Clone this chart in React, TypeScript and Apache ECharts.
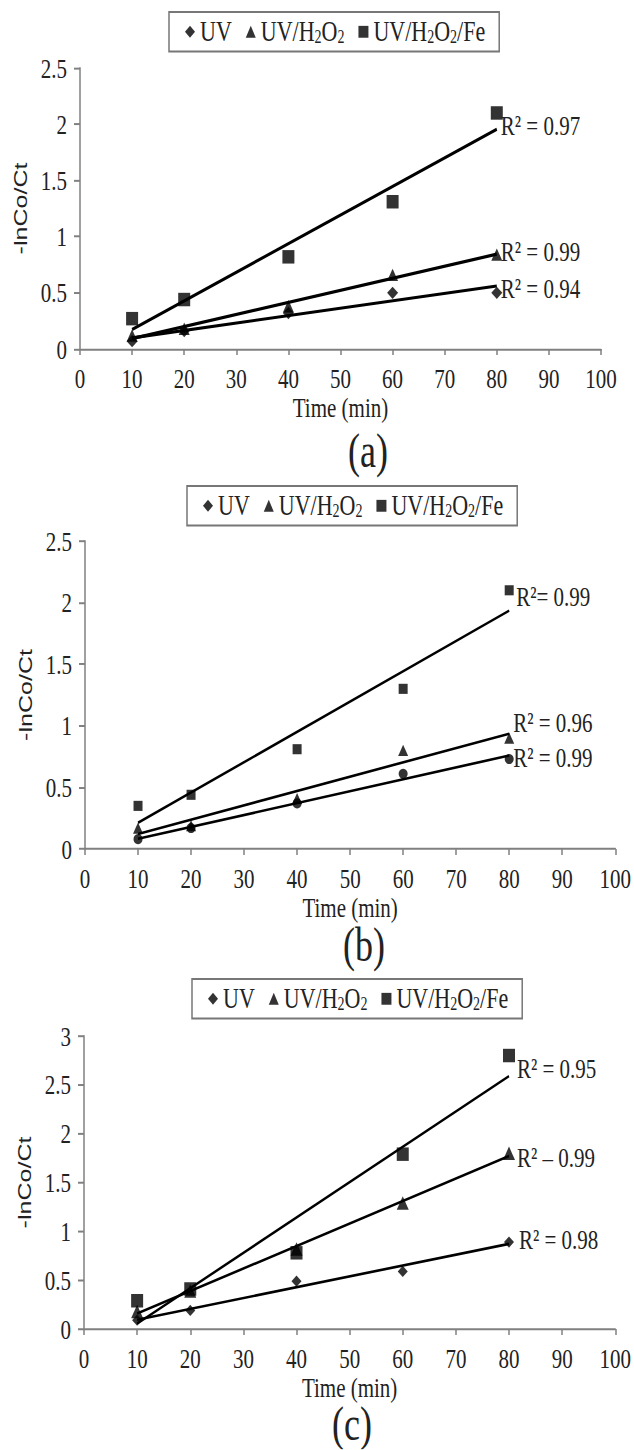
import React, { useEffect, useRef } from "react";
import * as echarts from "echarts";

// ---- data ----
const TIMES = [10, 20, 40, 60, 80];
const SERIES_NAMES = ["UV", "UV/H2O2", "UV/H2O2/Fe"];
const PANEL_LABELS = ["(a)", "(b)", "(c)"];
const X_NAME = "Time (min)";
const Y_NAME = "-lnCo/Ct";

const A_UV = [0.07, 0.16, 0.32, 0.5, 0.5];
const A_H2O2 = [0.12, 0.18, 0.38, 0.66, 0.84];
const A_FE = [0.27, 0.44, 0.82, 1.31, 2.1];
const A_R2 = ["R² = 0.94", "R² = 0.99", "R² = 0.97"];

const B_UV = [0.08, 0.17, 0.37, 0.61, 0.73];
const B_H2O2 = [0.17, 0.19, 0.41, 0.8, 0.9];
const B_FE = [0.35, 0.44, 0.81, 1.3, 2.1];
const B_R2 = ["R² = 0.99", "R² = 0.96", "R²= 0.99"];

const C_UV = [0.09, 0.19, 0.49, 0.59, 0.89];
const C_H2O2 = [0.18, 0.39, 0.82, 1.29, 1.8];
const C_FE = [0.29, 0.41, 0.78, 1.79, 2.8];
const C_R2 = ["R² = 0.98", "R² – 0.99", "R² = 0.95"];

const Y_MAX = [2.5, 2.5, 3];
const X_MAX = 100;
const X_STEP = 10;
const Y_STEP = 0.5;

// ---- layout / style ----
// The reference figure is stretched vertically; we draw in compressed
// coordinates and stretch the whole chart with a CSS scaleY.
const K = 1.32;
const W = 634;
const H = 1450;
const SERIF = "Liberation Serif";
const SANS = "Liberation Sans";
const TEXT = "#222";
const AXIS = "#808080";

// positions given in page pixels (after stretch)
const LAYOUT = [
  {
    grid: { left: 80, top: 68, width: 521, height: 281 },
    legend: { left: 169, top: 12 },
    label: [368, 451],
    xNameOffset: 58,
    uvSymbol: "diamond",
    sizes: [11, 11, 12],
    lineWidth: 2.4,
    r2Offsets: [[0, 2], [0, -3], [0, -4]],
  },
  {
    grid: { left: 85, top: 541, width: 534, height: 308 },
    legend: { left: 187, top: 486 },
    label: [364, 945],
    xNameOffset: 51,
    uvSymbol: "circle",
    sizes: [9, 10, 9],
    lineWidth: 2,
    r2Offsets: [[0, 2], [0, -11], [3, -14]],
  },
  {
    grid: { left: 84, top: 1036, width: 537, height: 293 },
    legend: { left: 192, top: 979 },
    label: [352, 1424],
    xNameOffset: 59,
    uvSymbol: "diamond",
    sizes: [10, 12, 12],
    lineWidth: 2,
    r2Offsets: [[6, -4], [4, 2], [4, -8]],
  },
];

const PANEL_DATA = [
  [A_UV, A_H2O2, A_FE],
  [B_UV, B_H2O2, B_FE],
  [C_UV, C_H2O2, C_FE],
];
const PANEL_R2 = [A_R2, B_R2, C_R2];

const cy = (v: number) => v / K;

// least-squares trend line through the read points
function fitLine(xs: number[], ys: number[]) {
  const n = xs.length;
  const mx = xs.reduce((a, b) => a + b, 0) / n;
  const my = ys.reduce((a, b) => a + b, 0) / n;
  let sxy = 0;
  let sxx = 0;
  for (let i = 0; i < n; i++) {
    sxy += (xs[i] - mx) * (ys[i] - my);
    sxx += (xs[i] - mx) * (xs[i] - mx);
  }
  const b = sxy / sxx;
  const a = my - b * mx;
  const x0 = xs[0];
  const x1 = xs[n - 1];
  return [
    [x0, a + b * x0],
    [x1, a + b * x1],
  ];
}

function buildOption() {
  const grid = LAYOUT.map((l) => ({
    left: l.grid.left,
    width: l.grid.width,
    top: cy(l.grid.top),
    height: cy(l.grid.height),
    containLabel: false,
  }));
  const xAxis = LAYOUT.map((l, i) => ({
    type: "value",
    gridIndex: i,
    min: 0,
    max: X_MAX,
    interval: X_STEP,
    name: X_NAME,
    nameLocation: "middle",
    nameGap: cy(l.xNameOffset) - 11,
    nameTextStyle: { fontFamily: SERIF, fontSize: 21, color: TEXT },
    axisLine: { show: true, lineStyle: { color: AXIS, width: 1.5 } },
    axisTick: { show: true, length: cy(6), lineStyle: { color: AXIS, width: 1.5 } },
    axisLabel: { fontFamily: SERIF, fontSize: 21, color: TEXT, margin: cy(30) - 11 },
    splitLine: { show: false },
  }));
  const yAxis = LAYOUT.map((l, i) => ({
    type: "value",
    gridIndex: i,
    min: 0,
    max: Y_MAX[i],
    interval: Y_STEP,
    name: Y_NAME,
    nameLocation: "middle",
    nameRotate: 90,
    nameGap: 47,
    nameTextStyle: { fontFamily: SANS, fontSize: 19, color: TEXT },
    axisLine: { show: true, lineStyle: { color: AXIS, width: 1.5 } },
    axisTick: { show: true, length: 6, lineStyle: { color: AXIS, width: 1.5 } },
    axisLabel: { fontFamily: SERIF, fontSize: 21, color: TEXT, margin: 13 },
    splitLine: { show: false },
  }));
  const icons = ["diamond", "triangle", "rect"];
  const legend = LAYOUT.map((l) => ({
    left: l.legend.left,
    top: cy(l.legend.top),
    orient: "horizontal",
    selectedMode: false,
    data: SERIES_NAMES.map((n, k) => ({ name: n, icon: icons[k] })),
    itemWidth: 10,
    itemHeight: 9,
    itemGap: 14,
    padding: [4, 14, 4, 16],
    borderColor: "#777",
    borderWidth: 1.5,
    backgroundColor: "#fff",
    formatter: (name: string) => name.replace(/2/g, "{sub|2}"),
    textStyle: {
      fontFamily: SERIF,
      fontSize: 22,
      color: TEXT,
      rich: {
        sub: { fontFamily: SERIF, fontSize: 14, color: TEXT, padding: [8, 0, 0, 0] },
      },
    },
  }));

  const series: any[] = [];
  LAYOUT.forEach((l, i) => {
    const symbols = [l.uvSymbol, "triangle", "rect"];
    PANEL_DATA[i].forEach((ys, k) => {
      const s = l.sizes[k];
      series.push({
        type: "scatter",
        name: SERIES_NAMES[k],
        xAxisIndex: i,
        yAxisIndex: i,
        symbol: symbols[k],
        symbolSize: [s, s * 0.85],
        itemStyle: { color: "#000" },
        data: TIMES.map((t, j) => [t, ys[j]]),
        z: 3,
      });
    });
    PANEL_DATA[i].forEach((ys, k) => {
      const off = l.r2Offsets[k];
      series.push({
        type: "line",
        name: `fit-${i}-${k}`,
        xAxisIndex: i,
        yAxisIndex: i,
        symbol: "none",
        lineStyle: { color: "#000", width: l.lineWidth },
        data: fitLine(TIMES, ys),
        endLabel: {
          show: true,
          formatter: PANEL_R2[i][k],
          fontFamily: SERIF,
          fontSize: 21,
          color: TEXT,
          distance: 4,
          offset: [off[0], cy(off[1])],
        },
        z: 4,
      });
    });
  });

  const graphic = LAYOUT.map((l, i) => ({
    type: "text",
    x: l.label[0],
    y: cy(l.label[1]),
    style: {
      text: PANEL_LABELS[i],
      fontFamily: SERIF,
      fontSize: 36,
      fill: TEXT,
      align: "center",
      verticalAlign: "middle",
    },
  }));

  return {
    animation: false,
    backgroundColor: "#fff",
    grid,
    xAxis,
    yAxis,
    legend,
    series,
    graphic,
  };
}

export default function App() {
  const ref = useRef<HTMLDivElement>(null);
  useEffect(() => {
    if (!ref.current) return;
    const chart = echarts.init(ref.current, undefined, { renderer: "svg" });
    chart.setOption(buildOption() as any);
    return () => chart.dispose();
  }, []);
  return (
    <div style={{ position: "absolute", left: 0, top: 0, width: W, height: H, background: "#fff", overflow: "hidden" }}>
      <div
        ref={ref}
        style={{
          position: "absolute",
          left: 0,
          top: 0,
          width: W,
          height: H / K,
          transform: `scaleY(${K})`,
          transformOrigin: "0 0",
          background: "#fff",
        }}
      />
    </div>
  );
}
